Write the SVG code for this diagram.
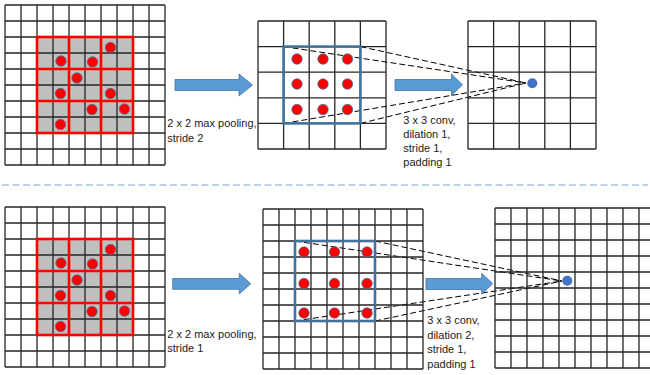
<svg xmlns="http://www.w3.org/2000/svg" xmlns:xlink="http://www.w3.org/1999/xlink" width="650" height="375" viewBox="0 0 650 375">
<style>
.grid{fill:none;stroke:#262626;stroke-width:1.3}
.gray{fill:#BFBFBF}
.red{fill:none;stroke:#FF0000;stroke-width:2.6}
.rdot{fill:#FF0000;stroke:#41719C;stroke-width:0.8}
.bdot{fill:#4472C4}
.box{fill:none;stroke:#41719C;stroke-width:2.6}
.arr{fill:#5B9BD5;stroke:#41719C;stroke-width:0.8}
.dash{fill:none;stroke:#000;stroke-width:1;stroke-dasharray:6 3}
.sep{fill:none;stroke:#A8C3E3;stroke-width:1.5;stroke-dasharray:7 3.5}
.lbl{font-family:"Liberation Sans",Arial,sans-serif;font-size:11px;fill:#1a1a1a}
</style>
<defs>
<path id="g10" class="grid" d="M0 0V160M16 0V160M32 0V160M48 0V160M64 0V160M80 0V160M96 0V160M112 0V160M128 0V160M144 0V160M160 0V160M0 0H160M0 16H160M0 32H160M0 48H160M0 64H160M0 80H160M0 96H160M0 112H160M0 128H160M0 144H160M0 160H160"/>
<path id="g5" class="grid" d="M0 0V128M25.6 0V128M51.2 0V128M76.8 0V128M102.4 0V128M128 0V128M0 0H128M0 25.6H128M0 51.2H128M0 76.8H128M0 102.4H128M0 128H128"/>
<g id="poolin">
<rect class="gray" x="37" y="37" width="96" height="96"/>
<use xlink:href="#g10" href="#g10" x="5" y="5"/>
<rect class="red" x="37" y="37" width="96" height="96"/>
<path class="red" d="M69 37V133M101 37V133M37 69H133M37 101H133"/>
<circle class="rdot" cx="110.5" cy="47.5" r="5.2"/>
<circle class="rdot" cx="61" cy="61" r="5.2"/>
<circle class="rdot" cx="92.5" cy="62" r="5.2"/>
<circle class="rdot" cx="77" cy="78" r="5.2"/>
<circle class="rdot" cx="60.5" cy="93.5" r="5.2"/>
<circle class="rdot" cx="110.5" cy="93.5" r="5.2"/>
<circle class="rdot" cx="92" cy="109.5" r="5.2"/>
<circle class="rdot" cx="124.5" cy="109" r="5.2"/>
<circle class="rdot" cx="60.5" cy="124.5" r="5.2"/>
</g>
</defs>

<line class="sep" x1="2" y1="185" x2="648" y2="185"/>

<g id="connectors">
<path class="dash" d="M283.6 46.6L526 83M360.4 46.6L526 83M283.6 123.4L526 83M360.4 123.4L526 83"/>
<path class="dash" d="M295 241L562 281M375 241L562 281M295 321L562 281M375 321L562 281"/>
<polygon class="arr" points="175,79.5 239,79.5 239,74 252.5,85 239,96 239,90.5 175,90.5"/>
<polygon class="arr" points="395,79.5 451.5,79.5 451.5,74 462.5,84.8 451.5,95.5 451.5,90.5 395,90.5"/>
<polygon class="arr" points="172.7,278.5 239.3,278.5 239.3,273.3 250.7,283.7 239.3,294 239.3,289.3 172.7,289.3"/>
<polygon class="arr" points="426,278.5 481.7,278.5 481.7,273.3 492.7,283.7 481.7,294.3 481.7,289.5 426,289.5"/>
</g>

<g id="top-input">
<use xlink:href="#poolin" href="#poolin"/>
</g>

<g id="top-pooled">
<use xlink:href="#g5" href="#g5" x="258" y="21"/>
<rect class="box" x="283.6" y="46.6" width="76.8" height="76.8"/>
<circle class="rdot" cx="297" cy="59" r="5.2"/>
<circle class="rdot" cx="323" cy="59" r="5.2"/>
<circle class="rdot" cx="347.5" cy="59" r="5.2"/>
<circle class="rdot" cx="297" cy="84" r="5.2"/>
<circle class="rdot" cx="323" cy="84" r="5.2"/>
<circle class="rdot" cx="347.5" cy="84" r="5.2"/>
<circle class="rdot" cx="297" cy="109.5" r="5.2"/>
<circle class="rdot" cx="323" cy="109.5" r="5.2"/>
<circle class="rdot" cx="347.5" cy="109.5" r="5.2"/>
</g>

<g id="top-output">
<use xlink:href="#g5" href="#g5" x="468" y="21"/>
<circle class="bdot" cx="532.3" cy="83.3" r="5"/>
</g>

<g id="top-pool-label">
<text class="lbl" x="167.3" y="127">2 x 2 max pooling,</text>
<text class="lbl" x="167.3" y="141.5">stride 2</text>
</g>

<g id="top-conv-label">
<text class="lbl" x="403.3" y="123.5">3 x 3 conv,</text>
<text class="lbl" x="403.3" y="137.5">dilation 1,</text>
<text class="lbl" x="403.3" y="151.5">stride 1,</text>
<text class="lbl" x="403.3" y="165.5">padding 1</text>
</g>

<g id="bottom-input">
<use xlink:href="#poolin" href="#poolin" transform="translate(0,202)"/>
</g>

<g id="bottom-pooled">
<use xlink:href="#g10" href="#g10" x="263" y="209"/>
<rect class="box" x="295" y="241" width="80" height="80"/>
<circle class="rdot" cx="304" cy="252" r="5.2"/>
<circle class="rdot" cx="334.5" cy="252" r="5.2"/>
<circle class="rdot" cx="367" cy="252" r="5.2"/>
<circle class="rdot" cx="304" cy="283.5" r="5.2"/>
<circle class="rdot" cx="334.5" cy="283.5" r="5.2"/>
<circle class="rdot" cx="367" cy="283.5" r="5.2"/>
<circle class="rdot" cx="304" cy="313" r="5.2"/>
<circle class="rdot" cx="334.5" cy="313" r="5.2"/>
<circle class="rdot" cx="367" cy="313" r="5.2"/>
</g>

<g id="bottom-output">
<use xlink:href="#g10" href="#g10" x="495" y="208"/>
<circle class="bdot" cx="567.3" cy="280.7" r="5"/>
</g>

<g id="bottom-pool-label">
<text class="lbl" x="167.3" y="337.5">2 x 2 max pooling,</text>
<text class="lbl" x="167.3" y="352">stride 1</text>
</g>

<g id="bottom-conv-label">
<text class="lbl" x="427.3" y="324">3 x 3 conv,</text>
<text class="lbl" x="427.3" y="338.5">dilation 2,</text>
<text class="lbl" x="427.3" y="353">stride 1,</text>
<text class="lbl" x="427.3" y="367.5">padding 1</text>
</g>
</svg>
